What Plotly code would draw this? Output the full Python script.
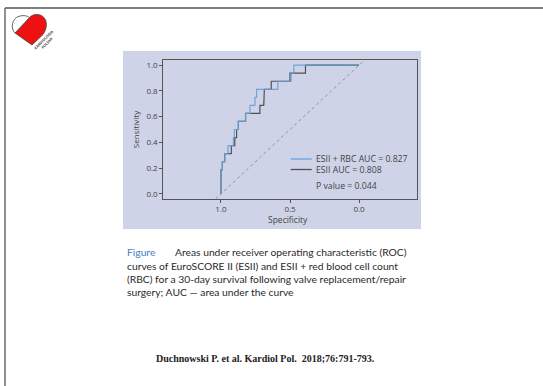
import plotly.graph_objects as go

W, H = 543, 386

# ---- data ----
sens_levels = [0.1875, 0.25, 0.3125, 0.375, 0.4375, 0.5, 0.5625, 0.625,
               0.6875, 0.75, 0.8125, 0.875, 0.9375, 1.0]
# specificity at which each curve rises to the sensitivity level above
rbc_spec = [1.0, 0.99, 0.973, 0.949, 0.910, 0.903, 0.874, 0.822,
            0.790, 0.754, 0.742, 0.588, 0.492, 0.472]
esii_spec = [1.0, 0.99, 0.973, 0.925, 0.900, 0.887, 0.874, 0.822,
             0.718, 0.690, 0.686, 0.636, 0.500, 0.388]
x_ticks = [1.0, 0.5, 0.0]
x_ticktext = ["1.0", "0.5", "0.0"]
y_ticks = [0.0, 0.2, 0.4, 0.6, 0.8, 1.0]
y_ticktext = ["0.0", "0.2", "0.4", "0.6", "0.8", "1.0"]
legend_labels = ["ESII + RBC AUC = 0.827", "ESII AUC = 0.808"]
p_text = "P value = 0.044"
caption_lines = [
    "Areas under receiver operating characteristic (ROC)",
    "curves of EuroSCORE II (ESII) and ESII + red blood cell count",
    "(RBC) for a 30-day survival following valve replacement/repair",
    "surgery; AUC \u2014 area under the curve",
]
citation = "Duchnowski P. et al. Kardiol Pol.  2018;76:791-793."

X_RANGE = [1.418, -0.418]
Y_RANGE = [-0.04, 1.04]

BLUE = "#689fd8"
GRAY = "#505050"
PANEL = "#cfd3e7"
TXT = "#444444"


def steps(spec):
    xs, ys = [spec[0]], [0.0]
    prev = 0.0
    for s, lv in zip(spec, sens_levels):
        xs += [s, s]
        ys += [prev, lv]
        prev = lv
    xs.append(0.0)
    ys.append(1.0)
    return xs, ys


def px(x):
    return x / W


def py(y):
    return 1 - y / H


def path_px(cmds):
    out = []
    for c in cmds:
        if isinstance(c, str):
            out.append(c)
        else:
            out.append(f"{px(c[0]):.5f},{py(c[1]):.5f}")
    return " ".join(out)


fig = go.Figure()

# diagonal reference line across the plotting region
fig.add_trace(go.Scatter(x=[1 - Y_RANGE[0], 1 - Y_RANGE[1]], y=Y_RANGE, mode="lines",
                         line=dict(color="#8a8a8a", width=0.9, dash="dot"),
                         hoverinfo="skip", showlegend=False))
ex, ey = steps(esii_spec)
fig.add_trace(go.Scatter(x=ex, y=ey, mode="lines", line=dict(color=GRAY, width=1.2),
                         name=legend_labels[1], showlegend=False))
rx, ry = steps(rbc_spec)
fig.add_trace(go.Scatter(x=rx, y=ry, mode="lines", line=dict(color=BLUE, width=1.2),
                         opacity=0.9, name=legend_labels[0], showlegend=False))

PX0, PX1, PY0, PY1 = 163.3, 416.7, 60.0, 199.0

axis_common = dict(showgrid=False, zeroline=False, showline=True, mirror=True,
                   linecolor="#555555", linewidth=1, ticks="outside", ticklen=3,
                   tickcolor="#555555", tickwidth=1,
                   tickfont=dict(family="Open Sans", size=8, color=TXT))

fig.update_layout(
    width=W, height=H, margin=dict(l=0, r=0, t=0, b=0),
    paper_bgcolor="white", plot_bgcolor="white",
    xaxis=dict(domain=[px(PX0), px(PX1)], range=X_RANGE, tickvals=x_ticks,
               ticktext=x_ticktext, ticklabelstandoff=-1, **axis_common),
    yaxis=dict(domain=[py(PY1), py(PY0)], range=Y_RANGE, tickvals=y_ticks,
               ticktext=y_ticktext, **axis_common),
    showlegend=False,
)

shapes = []
# panel behind chart
shapes.append(dict(type="rect", xref="paper", yref="paper", layer="below",
                   x0=px(123), x1=px(421), y0=py(229), y1=py(51),
                   fillcolor=PANEL, line=dict(width=0)))
# outer frame
shapes.append(dict(type="line", xref="paper", yref="paper", x0=px(5), x1=px(543),
                   y0=py(8), y1=py(8), line=dict(color="#555555", width=1.3)))
shapes.append(dict(type="line", xref="paper", yref="paper", x0=px(5), x1=px(5),
                   y0=py(8), y1=py(386), line=dict(color="#555555", width=1.3)))
# legend line samples
for yy, col in [(159.0, BLUE), (169.5, GRAY)]:
    shapes.append(dict(type="line", xref="paper", yref="paper", x0=px(290.7), x1=px(311.7),
                       y0=py(yy), y1=py(yy), line=dict(color=col, width=1.3)))
# logo
shapes.append(dict(type="path", xref="paper", yref="paper",
                   path=path_px(["M", (15, 33), "L", (29.5, 17.5), "C", (33, 13.5), (41.5, 13),
                                 (45, 19), "C", (47.5, 23.5), (46.5, 29.5), (43, 34.5), "L",
                                 (32, 45), "Z"]),
                   fillcolor="#ee1111", line=dict(color="#444444", width=0.8)))
shapes.append(dict(type="path", xref="paper", yref="paper",
                   path=path_px(["M", (15, 33), "C", (10.5, 29), (11.5, 18.5), (19, 16.3), "C",
                                 (23, 15), (27, 15.5), (29.5, 17.5), "Z"]),
                   fillcolor="white", line=dict(color="#444444", width=0.8)))
fig.update_layout(shapes=shapes)

ann = []


def add_text(text, x, y, size, color=TXT, family="Open Sans", xanchor="left", angle=0):
    ann.append(dict(text=text, x=px(x), y=py(y), xref="paper", yref="paper",
                    showarrow=False, xanchor=xanchor, yanchor="middle",
                    textangle=angle, font=dict(family=family, size=size, color=color)))


add_text("Sensitivity", 135.7, 129.5, 8, xanchor="center", angle=-90)
add_text("Specificity", 288, 219.5, 8.5, xanchor="center")
add_text(legend_labels[0], 313.5, 159.0, 8.7)
add_text(legend_labels[1], 313.5, 169.5, 8.7)
add_text(p_text, 313.5, 185.7, 8.7)
add_text("<b>KARDIOLOGIA<br>POLSKA</b>", 46, 41.5, 3.6, color="#444444",
         xanchor="center", angle=-45)

add_text("Figure", 124.5, 251.7, 10.3, color="#3f7fc1", family="Lato")
add_text(caption_lines[0], 172.5, 251.7, 10.3, color="#2a2a2a", family="Lato")
for i, line in enumerate(caption_lines[1:]):
    add_text(line, 124.5, 265.5 + 13.4 * i, 10.3, color="#2a2a2a", family="Lato")
add_text(f"<b>{citation}</b>", 265, 358.3, 10, color="#222222",
         family="Liberation Serif", xanchor="center")

fig.update_layout(annotations=ann)
fig.write_html("out.html", config={"displayModeBar": False},
               post_script="document.body.style.margin='0';document.body.style.overflow='hidden';")
